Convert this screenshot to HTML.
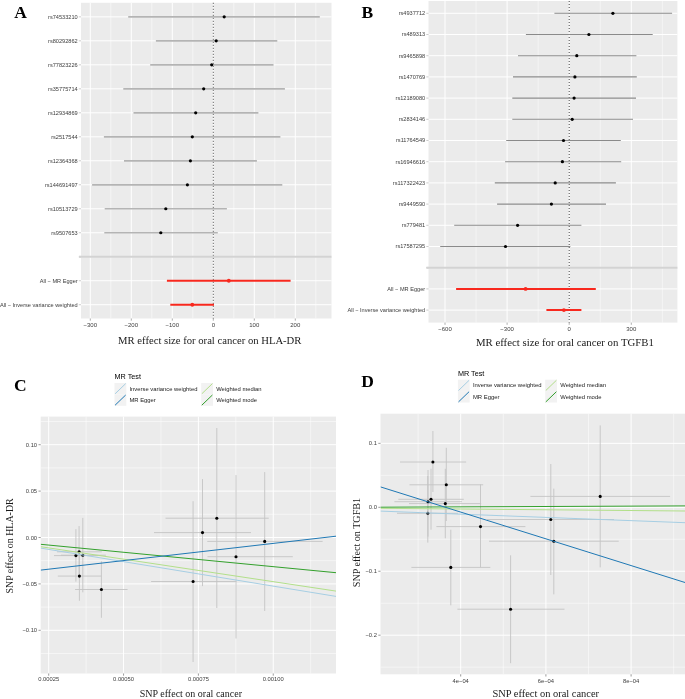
<!DOCTYPE html>
<html><head><meta charset="utf-8"><title>MR plots</title>
<style>
html,body{margin:0;padding:0;background:#fff;width:685px;height:699px;overflow:hidden;}
svg{display:block;will-change:transform;}
</style></head>
<body>
<svg width="685" height="699" viewBox="0 0 685 699">
<rect x="0" y="0" width="685" height="699" fill="#ffffff"/>
<text x="14.2" y="17.5" font-family="'Liberation Serif', serif" font-size="17.5" text-anchor="start" fill="#000" font-weight="bold" >A</text>
<text x="361.5" y="17.6" font-family="'Liberation Serif', serif" font-size="17.5" text-anchor="start" fill="#000" font-weight="bold" >B</text>
<text x="14.1" y="391" font-family="'Liberation Serif', serif" font-size="17.5" text-anchor="start" fill="#000" font-weight="bold" >C</text>
<text x="361.35" y="387.05" font-family="'Liberation Serif', serif" font-size="17.5" text-anchor="start" fill="#000" font-weight="bold" >D</text>
<rect x="81" y="2.8" width="250.5" height="315.7" fill="#ebebeb" />
<line x1="110.8" y1="2.8" x2="110.8" y2="318.5" stroke="#ffffff" stroke-width="0.5" />
<line x1="151.8" y1="2.8" x2="151.8" y2="318.5" stroke="#ffffff" stroke-width="0.5" />
<line x1="192.8" y1="2.8" x2="192.8" y2="318.5" stroke="#ffffff" stroke-width="0.5" />
<line x1="233.8" y1="2.8" x2="233.8" y2="318.5" stroke="#ffffff" stroke-width="0.5" />
<line x1="274.8" y1="2.8" x2="274.8" y2="318.5" stroke="#ffffff" stroke-width="0.5" />
<line x1="315.8" y1="2.8" x2="315.8" y2="318.5" stroke="#ffffff" stroke-width="0.5" />
<line x1="90.3" y1="2.8" x2="90.3" y2="318.5" stroke="#ffffff" stroke-width="1" />
<line x1="131.3" y1="2.8" x2="131.3" y2="318.5" stroke="#ffffff" stroke-width="1" />
<line x1="172.3" y1="2.8" x2="172.3" y2="318.5" stroke="#ffffff" stroke-width="1" />
<line x1="213.3" y1="2.8" x2="213.3" y2="318.5" stroke="#ffffff" stroke-width="1" />
<line x1="254.3" y1="2.8" x2="254.3" y2="318.5" stroke="#ffffff" stroke-width="1" />
<line x1="295.3" y1="2.8" x2="295.3" y2="318.5" stroke="#ffffff" stroke-width="1" />
<line x1="81" y1="16.85" x2="331.5" y2="16.85" stroke="#ffffff" stroke-width="1" />
<line x1="81" y1="40.84" x2="331.5" y2="40.84" stroke="#ffffff" stroke-width="1" />
<line x1="81" y1="64.83" x2="331.5" y2="64.83" stroke="#ffffff" stroke-width="1" />
<line x1="81" y1="88.82" x2="331.5" y2="88.82" stroke="#ffffff" stroke-width="1" />
<line x1="81" y1="112.81" x2="331.5" y2="112.81" stroke="#ffffff" stroke-width="1" />
<line x1="81" y1="136.8" x2="331.5" y2="136.8" stroke="#ffffff" stroke-width="1" />
<line x1="81" y1="160.79" x2="331.5" y2="160.79" stroke="#ffffff" stroke-width="1" />
<line x1="81" y1="184.78" x2="331.5" y2="184.78" stroke="#ffffff" stroke-width="1" />
<line x1="81" y1="208.77" x2="331.5" y2="208.77" stroke="#ffffff" stroke-width="1" />
<line x1="81" y1="232.76" x2="331.5" y2="232.76" stroke="#ffffff" stroke-width="1" />
<line x1="81" y1="256.75" x2="331.5" y2="256.75" stroke="#ffffff" stroke-width="1" />
<line x1="81" y1="280.74" x2="331.5" y2="280.74" stroke="#ffffff" stroke-width="1" />
<line x1="81" y1="304.73" x2="331.5" y2="304.73" stroke="#ffffff" stroke-width="1" />
<line x1="213.3" y1="2.8" x2="213.3" y2="318.5" stroke="#333" stroke-width="0.9" stroke-dasharray="1 2"/>
<line x1="128.2" y1="16.85" x2="319.8" y2="16.85" stroke="#b4b4b4" stroke-width="1.7" />
<circle cx="224.2" cy="16.85" r="1.6" fill="#000"/>
<line x1="155.9" y1="40.84" x2="277.3" y2="40.84" stroke="#b4b4b4" stroke-width="1.7" />
<circle cx="216.2" cy="40.84" r="1.6" fill="#000"/>
<line x1="150.2" y1="64.83" x2="273.5" y2="64.83" stroke="#b4b4b4" stroke-width="1.7" />
<circle cx="211.7" cy="64.83" r="1.6" fill="#000"/>
<line x1="123.3" y1="88.82" x2="284.9" y2="88.82" stroke="#b4b4b4" stroke-width="1.7" />
<circle cx="203.7" cy="88.82" r="1.6" fill="#000"/>
<line x1="133.5" y1="112.81" x2="258.4" y2="112.81" stroke="#b4b4b4" stroke-width="1.7" />
<circle cx="195.7" cy="112.81" r="1.6" fill="#000"/>
<line x1="103.9" y1="136.8" x2="280.4" y2="136.8" stroke="#b4b4b4" stroke-width="1.7" />
<circle cx="192.3" cy="136.8" r="1.6" fill="#000"/>
<line x1="124" y1="160.79" x2="256.9" y2="160.79" stroke="#b4b4b4" stroke-width="1.7" />
<circle cx="190.4" cy="160.79" r="1.6" fill="#000"/>
<line x1="92.1" y1="184.78" x2="282.3" y2="184.78" stroke="#b4b4b4" stroke-width="1.7" />
<circle cx="187.4" cy="184.78" r="1.6" fill="#000"/>
<line x1="104.7" y1="208.77" x2="226.9" y2="208.77" stroke="#b4b4b4" stroke-width="1.7" />
<circle cx="165.8" cy="208.77" r="1.6" fill="#000"/>
<line x1="104.3" y1="232.76" x2="217.8" y2="232.76" stroke="#b4b4b4" stroke-width="1.7" />
<circle cx="160.8" cy="232.76" r="1.6" fill="#000"/>
<line x1="79" y1="256.75" x2="331.5" y2="256.75" stroke="#d3d3d3" stroke-width="1.9" />
<line x1="166.9" y1="280.74" x2="290.6" y2="280.74" stroke="#f8281e" stroke-width="2" />
<circle cx="228.8" cy="280.74" r="1.9" fill="#f8281e"/>
<line x1="170.3" y1="304.73" x2="214" y2="304.73" stroke="#f8281e" stroke-width="2" />
<circle cx="192.3" cy="304.73" r="1.9" fill="#f8281e"/>
<line x1="78.8" y1="16.85" x2="81" y2="16.85" stroke="#aaa" stroke-width="0.6" />
<text x="77.7" y="18.8" font-family="'Liberation Sans', sans-serif" font-size="5.62" text-anchor="end" fill="#3c3c3c" font-weight="normal" >rs74533210</text>
<line x1="78.8" y1="40.84" x2="81" y2="40.84" stroke="#aaa" stroke-width="0.6" />
<text x="77.7" y="42.79" font-family="'Liberation Sans', sans-serif" font-size="5.62" text-anchor="end" fill="#3c3c3c" font-weight="normal" >rs80292862</text>
<line x1="78.8" y1="64.83" x2="81" y2="64.83" stroke="#aaa" stroke-width="0.6" />
<text x="77.7" y="66.78" font-family="'Liberation Sans', sans-serif" font-size="5.62" text-anchor="end" fill="#3c3c3c" font-weight="normal" >rs77823226</text>
<line x1="78.8" y1="88.82" x2="81" y2="88.82" stroke="#aaa" stroke-width="0.6" />
<text x="77.7" y="90.77" font-family="'Liberation Sans', sans-serif" font-size="5.62" text-anchor="end" fill="#3c3c3c" font-weight="normal" >rs35775714</text>
<line x1="78.8" y1="112.81" x2="81" y2="112.81" stroke="#aaa" stroke-width="0.6" />
<text x="77.7" y="114.76" font-family="'Liberation Sans', sans-serif" font-size="5.62" text-anchor="end" fill="#3c3c3c" font-weight="normal" >rs12934869</text>
<line x1="78.8" y1="136.8" x2="81" y2="136.8" stroke="#aaa" stroke-width="0.6" />
<text x="77.7" y="138.75" font-family="'Liberation Sans', sans-serif" font-size="5.62" text-anchor="end" fill="#3c3c3c" font-weight="normal" >rs2517544</text>
<line x1="78.8" y1="160.79" x2="81" y2="160.79" stroke="#aaa" stroke-width="0.6" />
<text x="77.7" y="162.74" font-family="'Liberation Sans', sans-serif" font-size="5.62" text-anchor="end" fill="#3c3c3c" font-weight="normal" >rs12364368</text>
<line x1="78.8" y1="184.78" x2="81" y2="184.78" stroke="#aaa" stroke-width="0.6" />
<text x="77.7" y="186.73" font-family="'Liberation Sans', sans-serif" font-size="5.62" text-anchor="end" fill="#3c3c3c" font-weight="normal" >rs144691497</text>
<line x1="78.8" y1="208.77" x2="81" y2="208.77" stroke="#aaa" stroke-width="0.6" />
<text x="77.7" y="210.72" font-family="'Liberation Sans', sans-serif" font-size="5.62" text-anchor="end" fill="#3c3c3c" font-weight="normal" >rs10513729</text>
<line x1="78.8" y1="232.76" x2="81" y2="232.76" stroke="#aaa" stroke-width="0.6" />
<text x="77.7" y="234.71" font-family="'Liberation Sans', sans-serif" font-size="5.62" text-anchor="end" fill="#3c3c3c" font-weight="normal" >rs9507653</text>
<line x1="78.8" y1="256.75" x2="81" y2="256.75" stroke="#d3d3d3" stroke-width="1.6" />
<line x1="78.8" y1="280.74" x2="81" y2="280.74" stroke="#aaa" stroke-width="0.6" />
<text x="77.7" y="282.69" font-family="'Liberation Sans', sans-serif" font-size="5.62" text-anchor="end" fill="#3c3c3c" font-weight="normal" >All − MR Egger</text>
<line x1="78.8" y1="304.73" x2="81" y2="304.73" stroke="#aaa" stroke-width="0.6" />
<text x="77.7" y="306.68" font-family="'Liberation Sans', sans-serif" font-size="5.62" text-anchor="end" fill="#3c3c3c" font-weight="normal" >All − Inverse variance weighted</text>
<line x1="90.3" y1="318.5" x2="90.3" y2="320.7" stroke="#777" stroke-width="0.6" />
<text x="90.3" y="327.1" font-family="'Liberation Sans', sans-serif" font-size="6" text-anchor="middle" fill="#3c3c3c" font-weight="normal" >−300</text>
<line x1="131.3" y1="318.5" x2="131.3" y2="320.7" stroke="#777" stroke-width="0.6" />
<text x="131.3" y="327.1" font-family="'Liberation Sans', sans-serif" font-size="6" text-anchor="middle" fill="#3c3c3c" font-weight="normal" >−200</text>
<line x1="172.3" y1="318.5" x2="172.3" y2="320.7" stroke="#777" stroke-width="0.6" />
<text x="172.3" y="327.1" font-family="'Liberation Sans', sans-serif" font-size="6" text-anchor="middle" fill="#3c3c3c" font-weight="normal" >−100</text>
<line x1="213.3" y1="318.5" x2="213.3" y2="320.7" stroke="#777" stroke-width="0.6" />
<text x="213.3" y="327.1" font-family="'Liberation Sans', sans-serif" font-size="6" text-anchor="middle" fill="#3c3c3c" font-weight="normal" >0</text>
<line x1="254.3" y1="318.5" x2="254.3" y2="320.7" stroke="#777" stroke-width="0.6" />
<text x="254.3" y="327.1" font-family="'Liberation Sans', sans-serif" font-size="6" text-anchor="middle" fill="#3c3c3c" font-weight="normal" >100</text>
<line x1="295.3" y1="318.5" x2="295.3" y2="320.7" stroke="#777" stroke-width="0.6" />
<text x="295.3" y="327.1" font-family="'Liberation Sans', sans-serif" font-size="6" text-anchor="middle" fill="#3c3c3c" font-weight="normal" >200</text>
<text x="209.75" y="344.4" font-family="'Liberation Serif', serif" font-size="10.65" text-anchor="middle" fill="#1a1a1a" font-weight="normal" >MR effect size for oral cancer on HLA-DR</text>
<rect x="428.5" y="1" width="248.9" height="321.6" fill="#ebebeb" />
<line x1="476.05" y1="1" x2="476.05" y2="322.6" stroke="#ffffff" stroke-width="0.5" />
<line x1="538.15" y1="1" x2="538.15" y2="322.6" stroke="#ffffff" stroke-width="0.5" />
<line x1="600.25" y1="1" x2="600.25" y2="322.6" stroke="#ffffff" stroke-width="0.5" />
<line x1="662.35" y1="1" x2="662.35" y2="322.6" stroke="#ffffff" stroke-width="0.5" />
<line x1="445" y1="1" x2="445" y2="322.6" stroke="#ffffff" stroke-width="1" />
<line x1="507.1" y1="1" x2="507.1" y2="322.6" stroke="#ffffff" stroke-width="1" />
<line x1="569.2" y1="1" x2="569.2" y2="322.6" stroke="#ffffff" stroke-width="1" />
<line x1="631.3" y1="1" x2="631.3" y2="322.6" stroke="#ffffff" stroke-width="1" />
<line x1="428.5" y1="13.3" x2="677.4" y2="13.3" stroke="#ffffff" stroke-width="1" />
<line x1="428.5" y1="34.5" x2="677.4" y2="34.5" stroke="#ffffff" stroke-width="1" />
<line x1="428.5" y1="55.7" x2="677.4" y2="55.7" stroke="#ffffff" stroke-width="1" />
<line x1="428.5" y1="76.9" x2="677.4" y2="76.9" stroke="#ffffff" stroke-width="1" />
<line x1="428.5" y1="98.1" x2="677.4" y2="98.1" stroke="#ffffff" stroke-width="1" />
<line x1="428.5" y1="119.3" x2="677.4" y2="119.3" stroke="#ffffff" stroke-width="1" />
<line x1="428.5" y1="140.5" x2="677.4" y2="140.5" stroke="#ffffff" stroke-width="1" />
<line x1="428.5" y1="161.7" x2="677.4" y2="161.7" stroke="#ffffff" stroke-width="1" />
<line x1="428.5" y1="182.9" x2="677.4" y2="182.9" stroke="#ffffff" stroke-width="1" />
<line x1="428.5" y1="204.1" x2="677.4" y2="204.1" stroke="#ffffff" stroke-width="1" />
<line x1="428.5" y1="225.3" x2="677.4" y2="225.3" stroke="#ffffff" stroke-width="1" />
<line x1="428.5" y1="246.5" x2="677.4" y2="246.5" stroke="#ffffff" stroke-width="1" />
<line x1="428.5" y1="267.7" x2="677.4" y2="267.7" stroke="#ffffff" stroke-width="1" />
<line x1="428.5" y1="288.9" x2="677.4" y2="288.9" stroke="#ffffff" stroke-width="1" />
<line x1="428.5" y1="310.1" x2="677.4" y2="310.1" stroke="#ffffff" stroke-width="1" />
<line x1="569.2" y1="1" x2="569.2" y2="322.6" stroke="#333" stroke-width="0.9" stroke-dasharray="1 2"/>
<line x1="554.4" y1="13.3" x2="672.1" y2="13.3" stroke="#8a8a8a" stroke-width="1.1" />
<circle cx="612.9" cy="13.3" r="1.6" fill="#000"/>
<line x1="525.9" y1="34.5" x2="652.7" y2="34.5" stroke="#8a8a8a" stroke-width="1.1" />
<circle cx="588.9" cy="34.5" r="1.6" fill="#000"/>
<line x1="518" y1="55.7" x2="636.4" y2="55.7" stroke="#8a8a8a" stroke-width="1.1" />
<circle cx="576.8" cy="55.7" r="1.6" fill="#000"/>
<line x1="513" y1="76.9" x2="636.8" y2="76.9" stroke="#8a8a8a" stroke-width="1.1" />
<circle cx="574.9" cy="76.9" r="1.6" fill="#000"/>
<line x1="512.3" y1="98.1" x2="636" y2="98.1" stroke="#8a8a8a" stroke-width="1.1" />
<circle cx="574.1" cy="98.1" r="1.6" fill="#000"/>
<line x1="512.3" y1="119.3" x2="633" y2="119.3" stroke="#8a8a8a" stroke-width="1.1" />
<circle cx="572.2" cy="119.3" r="1.6" fill="#000"/>
<line x1="506.2" y1="140.5" x2="620.8" y2="140.5" stroke="#8a8a8a" stroke-width="1.1" />
<circle cx="563.5" cy="140.5" r="1.6" fill="#000"/>
<line x1="505.1" y1="161.7" x2="621.2" y2="161.7" stroke="#8a8a8a" stroke-width="1.1" />
<circle cx="562.4" cy="161.7" r="1.6" fill="#000"/>
<line x1="494.8" y1="182.9" x2="615.9" y2="182.9" stroke="#8a8a8a" stroke-width="1.1" />
<circle cx="555.2" cy="182.9" r="1.6" fill="#000"/>
<line x1="497.1" y1="204.1" x2="606" y2="204.1" stroke="#8a8a8a" stroke-width="1.1" />
<circle cx="551.4" cy="204.1" r="1.6" fill="#000"/>
<line x1="454.2" y1="225.3" x2="581.4" y2="225.3" stroke="#8a8a8a" stroke-width="1.1" />
<circle cx="517.6" cy="225.3" r="1.6" fill="#000"/>
<line x1="440.2" y1="246.5" x2="570.4" y2="246.5" stroke="#8a8a8a" stroke-width="1.1" />
<circle cx="505.5" cy="246.5" r="1.6" fill="#000"/>
<line x1="426.5" y1="267.7" x2="677.4" y2="267.7" stroke="#d3d3d3" stroke-width="1.9" />
<line x1="456.1" y1="288.9" x2="595.8" y2="288.9" stroke="#f8281e" stroke-width="2" />
<circle cx="525.6" cy="288.9" r="1.9" fill="#f8281e"/>
<line x1="546.4" y1="310.1" x2="581.4" y2="310.1" stroke="#f8281e" stroke-width="2" />
<circle cx="563.9" cy="310.1" r="1.9" fill="#f8281e"/>
<line x1="426.3" y1="13.3" x2="428.5" y2="13.3" stroke="#aaa" stroke-width="0.6" />
<text x="425.2" y="15.25" font-family="'Liberation Sans', sans-serif" font-size="5.62" text-anchor="end" fill="#3c3c3c" font-weight="normal" >rs4937712</text>
<line x1="426.3" y1="34.5" x2="428.5" y2="34.5" stroke="#aaa" stroke-width="0.6" />
<text x="425.2" y="36.45" font-family="'Liberation Sans', sans-serif" font-size="5.62" text-anchor="end" fill="#3c3c3c" font-weight="normal" >rs489313</text>
<line x1="426.3" y1="55.7" x2="428.5" y2="55.7" stroke="#aaa" stroke-width="0.6" />
<text x="425.2" y="57.65" font-family="'Liberation Sans', sans-serif" font-size="5.62" text-anchor="end" fill="#3c3c3c" font-weight="normal" >rs9465898</text>
<line x1="426.3" y1="76.9" x2="428.5" y2="76.9" stroke="#aaa" stroke-width="0.6" />
<text x="425.2" y="78.85" font-family="'Liberation Sans', sans-serif" font-size="5.62" text-anchor="end" fill="#3c3c3c" font-weight="normal" >rs1470769</text>
<line x1="426.3" y1="98.1" x2="428.5" y2="98.1" stroke="#aaa" stroke-width="0.6" />
<text x="425.2" y="100.05" font-family="'Liberation Sans', sans-serif" font-size="5.62" text-anchor="end" fill="#3c3c3c" font-weight="normal" >rs12189080</text>
<line x1="426.3" y1="119.3" x2="428.5" y2="119.3" stroke="#aaa" stroke-width="0.6" />
<text x="425.2" y="121.25" font-family="'Liberation Sans', sans-serif" font-size="5.62" text-anchor="end" fill="#3c3c3c" font-weight="normal" >rs2834146</text>
<line x1="426.3" y1="140.5" x2="428.5" y2="140.5" stroke="#aaa" stroke-width="0.6" />
<text x="425.2" y="142.45" font-family="'Liberation Sans', sans-serif" font-size="5.62" text-anchor="end" fill="#3c3c3c" font-weight="normal" >rs11764549</text>
<line x1="426.3" y1="161.7" x2="428.5" y2="161.7" stroke="#aaa" stroke-width="0.6" />
<text x="425.2" y="163.65" font-family="'Liberation Sans', sans-serif" font-size="5.62" text-anchor="end" fill="#3c3c3c" font-weight="normal" >rs16946616</text>
<line x1="426.3" y1="182.9" x2="428.5" y2="182.9" stroke="#aaa" stroke-width="0.6" />
<text x="425.2" y="184.85" font-family="'Liberation Sans', sans-serif" font-size="5.62" text-anchor="end" fill="#3c3c3c" font-weight="normal" >rs117322423</text>
<line x1="426.3" y1="204.1" x2="428.5" y2="204.1" stroke="#aaa" stroke-width="0.6" />
<text x="425.2" y="206.05" font-family="'Liberation Sans', sans-serif" font-size="5.62" text-anchor="end" fill="#3c3c3c" font-weight="normal" >rs9449590</text>
<line x1="426.3" y1="225.3" x2="428.5" y2="225.3" stroke="#aaa" stroke-width="0.6" />
<text x="425.2" y="227.25" font-family="'Liberation Sans', sans-serif" font-size="5.62" text-anchor="end" fill="#3c3c3c" font-weight="normal" >rs779481</text>
<line x1="426.3" y1="246.5" x2="428.5" y2="246.5" stroke="#aaa" stroke-width="0.6" />
<text x="425.2" y="248.45" font-family="'Liberation Sans', sans-serif" font-size="5.62" text-anchor="end" fill="#3c3c3c" font-weight="normal" >rs17587295</text>
<line x1="426.3" y1="267.7" x2="428.5" y2="267.7" stroke="#d3d3d3" stroke-width="1.6" />
<line x1="426.3" y1="288.9" x2="428.5" y2="288.9" stroke="#aaa" stroke-width="0.6" />
<text x="425.2" y="290.85" font-family="'Liberation Sans', sans-serif" font-size="5.62" text-anchor="end" fill="#3c3c3c" font-weight="normal" >All − MR Egger</text>
<line x1="426.3" y1="310.1" x2="428.5" y2="310.1" stroke="#aaa" stroke-width="0.6" />
<text x="425.2" y="312.05" font-family="'Liberation Sans', sans-serif" font-size="5.62" text-anchor="end" fill="#3c3c3c" font-weight="normal" >All − Inverse variance weighted</text>
<line x1="445" y1="322.6" x2="445" y2="324.8" stroke="#777" stroke-width="0.6" />
<text x="445" y="330.9" font-family="'Liberation Sans', sans-serif" font-size="6" text-anchor="middle" fill="#3c3c3c" font-weight="normal" >−600</text>
<line x1="507.1" y1="322.6" x2="507.1" y2="324.8" stroke="#777" stroke-width="0.6" />
<text x="507.1" y="330.9" font-family="'Liberation Sans', sans-serif" font-size="6" text-anchor="middle" fill="#3c3c3c" font-weight="normal" >−300</text>
<line x1="569.2" y1="322.6" x2="569.2" y2="324.8" stroke="#777" stroke-width="0.6" />
<text x="569.2" y="330.9" font-family="'Liberation Sans', sans-serif" font-size="6" text-anchor="middle" fill="#3c3c3c" font-weight="normal" >0</text>
<line x1="631.3" y1="322.6" x2="631.3" y2="324.8" stroke="#777" stroke-width="0.6" />
<text x="631.3" y="330.9" font-family="'Liberation Sans', sans-serif" font-size="6" text-anchor="middle" fill="#3c3c3c" font-weight="normal" >300</text>
<text x="564.9" y="345.7" font-family="'Liberation Serif', serif" font-size="10.8" text-anchor="middle" fill="#1a1a1a" font-weight="normal" >MR effect size for oral cancer on TGFB1</text>
<rect x="40.7" y="416.6" width="295.3" height="256.9" fill="#ebebeb" />
<line x1="86.12" y1="416.6" x2="86.12" y2="673.5" stroke="#ffffff" stroke-width="0.5" />
<line x1="160.97" y1="416.6" x2="160.97" y2="673.5" stroke="#ffffff" stroke-width="0.5" />
<line x1="235.82" y1="416.6" x2="235.82" y2="673.5" stroke="#ffffff" stroke-width="0.5" />
<line x1="310.67" y1="416.6" x2="310.67" y2="673.5" stroke="#ffffff" stroke-width="0.5" />
<line x1="40.7" y1="421.5" x2="336" y2="421.5" stroke="#ffffff" stroke-width="0.5" />
<line x1="40.7" y1="467.9" x2="336" y2="467.9" stroke="#ffffff" stroke-width="0.5" />
<line x1="40.7" y1="514.3" x2="336" y2="514.3" stroke="#ffffff" stroke-width="0.5" />
<line x1="40.7" y1="560.7" x2="336" y2="560.7" stroke="#ffffff" stroke-width="0.5" />
<line x1="40.7" y1="607.1" x2="336" y2="607.1" stroke="#ffffff" stroke-width="0.5" />
<line x1="40.7" y1="653.5" x2="336" y2="653.5" stroke="#ffffff" stroke-width="0.5" />
<line x1="48.7" y1="416.6" x2="48.7" y2="673.5" stroke="#ffffff" stroke-width="1" />
<line x1="123.55" y1="416.6" x2="123.55" y2="673.5" stroke="#ffffff" stroke-width="1" />
<line x1="198.4" y1="416.6" x2="198.4" y2="673.5" stroke="#ffffff" stroke-width="1" />
<line x1="273.25" y1="416.6" x2="273.25" y2="673.5" stroke="#ffffff" stroke-width="1" />
<line x1="40.7" y1="444.7" x2="336" y2="444.7" stroke="#ffffff" stroke-width="1" />
<line x1="40.7" y1="491.1" x2="336" y2="491.1" stroke="#ffffff" stroke-width="1" />
<line x1="40.7" y1="537.5" x2="336" y2="537.5" stroke="#ffffff" stroke-width="1" />
<line x1="40.7" y1="583.9" x2="336" y2="583.9" stroke="#ffffff" stroke-width="1" />
<line x1="40.7" y1="630.3" x2="336" y2="630.3" stroke="#ffffff" stroke-width="1" />
<line x1="57" y1="551.8" x2="101.8" y2="551.8" stroke="#c4c4c4" stroke-width="0.9" />
<line x1="79.1" y1="526.1" x2="79.1" y2="577" stroke="#c4c4c4" stroke-width="0.9" />
<line x1="54" y1="555.6" x2="98" y2="555.6" stroke="#c4c4c4" stroke-width="0.9" />
<line x1="75.9" y1="529.2" x2="75.9" y2="581.6" stroke="#c4c4c4" stroke-width="0.9" />
<line x1="61" y1="555.2" x2="105.9" y2="555.2" stroke="#c4c4c4" stroke-width="0.9" />
<line x1="82.8" y1="517.9" x2="82.8" y2="592.3" stroke="#c4c4c4" stroke-width="0.9" />
<line x1="57.8" y1="576.1" x2="101.4" y2="576.1" stroke="#c4c4c4" stroke-width="0.9" />
<line x1="79.4" y1="551" x2="79.4" y2="600.8" stroke="#c4c4c4" stroke-width="0.9" />
<line x1="75.1" y1="589.5" x2="127.6" y2="589.5" stroke="#c4c4c4" stroke-width="0.9" />
<line x1="101.4" y1="561.3" x2="101.4" y2="617.8" stroke="#c4c4c4" stroke-width="0.9" />
<line x1="151.1" y1="581.5" x2="236.4" y2="581.5" stroke="#c4c4c4" stroke-width="0.9" />
<line x1="193.1" y1="501.2" x2="193.1" y2="662" stroke="#c4c4c4" stroke-width="0.9" />
<line x1="154" y1="532.6" x2="251" y2="532.6" stroke="#c4c4c4" stroke-width="0.9" />
<line x1="202.5" y1="479.1" x2="202.5" y2="586.1" stroke="#c4c4c4" stroke-width="0.9" />
<line x1="165.5" y1="518.2" x2="268.7" y2="518.2" stroke="#c4c4c4" stroke-width="0.9" />
<line x1="216.8" y1="428" x2="216.8" y2="608" stroke="#c4c4c4" stroke-width="0.9" />
<line x1="207.5" y1="556.7" x2="292.8" y2="556.7" stroke="#c4c4c4" stroke-width="0.9" />
<line x1="236" y1="475.1" x2="236" y2="638.5" stroke="#c4c4c4" stroke-width="0.9" />
<line x1="207.3" y1="541.4" x2="322.6" y2="541.4" stroke="#c4c4c4" stroke-width="0.9" />
<line x1="264.7" y1="472.1" x2="264.7" y2="611" stroke="#c4c4c4" stroke-width="0.9" />
<circle cx="79.1" cy="551.8" r="1.55" fill="#000"/>
<circle cx="75.9" cy="555.6" r="1.55" fill="#000"/>
<circle cx="82.8" cy="555.2" r="1.55" fill="#000"/>
<circle cx="79.4" cy="576.1" r="1.55" fill="#000"/>
<circle cx="101.4" cy="589.5" r="1.55" fill="#000"/>
<circle cx="193.1" cy="581.5" r="1.55" fill="#000"/>
<circle cx="202.5" cy="532.6" r="1.55" fill="#000"/>
<circle cx="216.8" cy="518.2" r="1.55" fill="#000"/>
<circle cx="236" cy="556.7" r="1.55" fill="#000"/>
<circle cx="264.7" cy="541.4" r="1.55" fill="#000"/>
<g clip-path="url(#clip40)">
<line x1="40.7" y1="548.1" x2="336" y2="596.4" stroke="#a6cee3" stroke-width="1" />
<line x1="40.7" y1="546.7" x2="336" y2="591.1" stroke="#b2df8a" stroke-width="1" />
<line x1="40.7" y1="544.3" x2="336" y2="572.7" stroke="#33a02c" stroke-width="1" />
<line x1="40.7" y1="570.1" x2="336" y2="536.2" stroke="#1f78b4" stroke-width="1" />
</g>
<clipPath id="clip40"><rect x="40.7" y="416.6" width="295.3" height="256.9"/></clipPath>
<line x1="48.7" y1="673.5" x2="48.7" y2="675.7" stroke="#555" stroke-width="0.6" />
<text x="48.7" y="681.3" font-family="'Liberation Sans', sans-serif" font-size="5.8" text-anchor="middle" fill="#3c3c3c" font-weight="normal" >0.00025</text>
<line x1="123.55" y1="673.5" x2="123.55" y2="675.7" stroke="#555" stroke-width="0.6" />
<text x="123.55" y="681.3" font-family="'Liberation Sans', sans-serif" font-size="5.8" text-anchor="middle" fill="#3c3c3c" font-weight="normal" >0.00050</text>
<line x1="198.4" y1="673.5" x2="198.4" y2="675.7" stroke="#555" stroke-width="0.6" />
<text x="198.4" y="681.3" font-family="'Liberation Sans', sans-serif" font-size="5.8" text-anchor="middle" fill="#3c3c3c" font-weight="normal" >0.00075</text>
<line x1="273.25" y1="673.5" x2="273.25" y2="675.7" stroke="#555" stroke-width="0.6" />
<text x="273.25" y="681.3" font-family="'Liberation Sans', sans-serif" font-size="5.8" text-anchor="middle" fill="#3c3c3c" font-weight="normal" >0.00100</text>
<line x1="38.5" y1="444.7" x2="40.7" y2="444.7" stroke="#555" stroke-width="0.6" />
<text x="37.1" y="446.7" font-family="'Liberation Sans', sans-serif" font-size="5.8" text-anchor="end" fill="#3c3c3c" font-weight="normal" >0.10</text>
<line x1="38.5" y1="491.1" x2="40.7" y2="491.1" stroke="#555" stroke-width="0.6" />
<text x="37.1" y="493.1" font-family="'Liberation Sans', sans-serif" font-size="5.8" text-anchor="end" fill="#3c3c3c" font-weight="normal" >0.05</text>
<line x1="38.5" y1="537.5" x2="40.7" y2="537.5" stroke="#555" stroke-width="0.6" />
<text x="37.1" y="539.5" font-family="'Liberation Sans', sans-serif" font-size="5.8" text-anchor="end" fill="#3c3c3c" font-weight="normal" >0.00</text>
<line x1="38.5" y1="583.9" x2="40.7" y2="583.9" stroke="#555" stroke-width="0.6" />
<text x="37.1" y="585.9" font-family="'Liberation Sans', sans-serif" font-size="5.8" text-anchor="end" fill="#3c3c3c" font-weight="normal" >−0.05</text>
<line x1="38.5" y1="630.3" x2="40.7" y2="630.3" stroke="#555" stroke-width="0.6" />
<text x="37.1" y="632.3" font-family="'Liberation Sans', sans-serif" font-size="5.8" text-anchor="end" fill="#3c3c3c" font-weight="normal" >−0.10</text>
<text x="190.9" y="697.3" font-family="'Liberation Serif', serif" font-size="10" text-anchor="middle" fill="#1a1a1a" font-weight="normal" >SNP effect on oral cancer</text>
<text x="0" y="0" transform="translate(13,545.9) rotate(-90)" font-family="'Liberation Serif', serif" font-size="9.95" text-anchor="middle" fill="#1a1a1a" font-weight="normal" >SNP effect on HLA-DR</text>
<text x="114.5" y="379.4" font-family="'Liberation Sans', sans-serif" font-size="7.25" text-anchor="start" fill="#000" font-weight="normal" >MR Test</text>
<rect x="114.5" y="383" width="11.8" height="11.4" fill="#f2f2f2" />
<line x1="115.1" y1="393.8" x2="125.7" y2="383.6" stroke="#a6cee3" stroke-width="1" />
<text x="129.5" y="390.75" font-family="'Liberation Sans', sans-serif" font-size="5.85" text-anchor="start" fill="#1a1a1a" font-weight="normal" >Inverse variance weighted</text>
<rect x="114.5" y="394.4" width="11.8" height="11.4" fill="#f2f2f2" />
<line x1="115.1" y1="405.2" x2="125.7" y2="395" stroke="#1f78b4" stroke-width="1" />
<text x="129.5" y="402.15" font-family="'Liberation Sans', sans-serif" font-size="5.85" text-anchor="start" fill="#1a1a1a" font-weight="normal" >MR Egger</text>
<rect x="201.2" y="383" width="11.8" height="11.4" fill="#f2f2f2" />
<line x1="201.8" y1="393.8" x2="212.4" y2="383.6" stroke="#b2df8a" stroke-width="1" />
<text x="216.2" y="390.75" font-family="'Liberation Sans', sans-serif" font-size="5.85" text-anchor="start" fill="#1a1a1a" font-weight="normal" >Weighted median</text>
<rect x="201.2" y="394.4" width="11.8" height="11.4" fill="#f2f2f2" />
<line x1="201.8" y1="405.2" x2="212.4" y2="395" stroke="#33a02c" stroke-width="1" />
<text x="216.2" y="402.15" font-family="'Liberation Sans', sans-serif" font-size="5.85" text-anchor="start" fill="#1a1a1a" font-weight="normal" >Weighted mode</text>
<rect x="380.5" y="413.7" width="304.5" height="260.6" fill="#ebebeb" />
<line x1="418.1" y1="413.7" x2="418.1" y2="674.3" stroke="#ffffff" stroke-width="0.5" />
<line x1="503.3" y1="413.7" x2="503.3" y2="674.3" stroke="#ffffff" stroke-width="0.5" />
<line x1="588.5" y1="413.7" x2="588.5" y2="674.3" stroke="#ffffff" stroke-width="0.5" />
<line x1="673.7" y1="413.7" x2="673.7" y2="674.3" stroke="#ffffff" stroke-width="0.5" />
<line x1="380.5" y1="475.32" x2="685" y2="475.32" stroke="#ffffff" stroke-width="0.5" />
<line x1="380.5" y1="539.27" x2="685" y2="539.27" stroke="#ffffff" stroke-width="0.5" />
<line x1="380.5" y1="603.23" x2="685" y2="603.23" stroke="#ffffff" stroke-width="0.5" />
<line x1="380.5" y1="667.17" x2="685" y2="667.17" stroke="#ffffff" stroke-width="0.5" />
<line x1="460.7" y1="413.7" x2="460.7" y2="674.3" stroke="#ffffff" stroke-width="1" />
<line x1="545.9" y1="413.7" x2="545.9" y2="674.3" stroke="#ffffff" stroke-width="1" />
<line x1="631.1" y1="413.7" x2="631.1" y2="674.3" stroke="#ffffff" stroke-width="1" />
<line x1="380.5" y1="443.35" x2="685" y2="443.35" stroke="#ffffff" stroke-width="1" />
<line x1="380.5" y1="507.3" x2="685" y2="507.3" stroke="#ffffff" stroke-width="1" />
<line x1="380.5" y1="571.25" x2="685" y2="571.25" stroke="#ffffff" stroke-width="1" />
<line x1="380.5" y1="635.2" x2="685" y2="635.2" stroke="#ffffff" stroke-width="1" />
<line x1="400" y1="462" x2="466.1" y2="462" stroke="#c4c4c4" stroke-width="0.9" />
<line x1="432.9" y1="431" x2="432.9" y2="492" stroke="#c4c4c4" stroke-width="0.9" />
<line x1="409.5" y1="484.8" x2="483.2" y2="484.8" stroke="#c4c4c4" stroke-width="0.9" />
<line x1="446.3" y1="447.8" x2="446.3" y2="521" stroke="#c4c4c4" stroke-width="0.9" />
<line x1="398.3" y1="499.3" x2="463.8" y2="499.3" stroke="#c4c4c4" stroke-width="0.9" />
<line x1="431" y1="468.8" x2="431" y2="529.7" stroke="#c4c4c4" stroke-width="0.9" />
<line x1="394.4" y1="501.7" x2="462" y2="501.7" stroke="#c4c4c4" stroke-width="0.9" />
<line x1="428" y1="470" x2="428" y2="536.6" stroke="#c4c4c4" stroke-width="0.9" />
<line x1="409" y1="503.6" x2="481.2" y2="503.6" stroke="#c4c4c4" stroke-width="0.9" />
<line x1="445.3" y1="468.8" x2="445.3" y2="538.3" stroke="#c4c4c4" stroke-width="0.9" />
<line x1="397" y1="513.3" x2="458" y2="513.3" stroke="#c4c4c4" stroke-width="0.9" />
<line x1="427.8" y1="476" x2="427.8" y2="542.6" stroke="#c4c4c4" stroke-width="0.9" />
<line x1="436.4" y1="526.6" x2="525.4" y2="526.6" stroke="#c4c4c4" stroke-width="0.9" />
<line x1="480.5" y1="484.4" x2="480.5" y2="567.3" stroke="#c4c4c4" stroke-width="0.9" />
<line x1="411.4" y1="567.4" x2="490.3" y2="567.4" stroke="#c4c4c4" stroke-width="0.9" />
<line x1="450.8" y1="529.7" x2="450.8" y2="605.3" stroke="#c4c4c4" stroke-width="0.9" />
<line x1="457.4" y1="609.2" x2="564.5" y2="609.2" stroke="#c4c4c4" stroke-width="0.9" />
<line x1="510.6" y1="555.3" x2="510.6" y2="663.2" stroke="#c4c4c4" stroke-width="0.9" />
<line x1="487" y1="519.5" x2="614" y2="519.5" stroke="#c4c4c4" stroke-width="0.9" />
<line x1="550.8" y1="464" x2="550.8" y2="575" stroke="#c4c4c4" stroke-width="0.9" />
<line x1="489" y1="541.2" x2="618.7" y2="541.2" stroke="#c4c4c4" stroke-width="0.9" />
<line x1="553.8" y1="488.6" x2="553.8" y2="594.4" stroke="#c4c4c4" stroke-width="0.9" />
<line x1="530.4" y1="496.4" x2="670.1" y2="496.4" stroke="#c4c4c4" stroke-width="0.9" />
<line x1="600.2" y1="425.4" x2="600.2" y2="567.4" stroke="#c4c4c4" stroke-width="0.9" />
<circle cx="432.9" cy="462" r="1.55" fill="#000"/>
<circle cx="446.3" cy="484.8" r="1.55" fill="#000"/>
<circle cx="431" cy="499.3" r="1.55" fill="#000"/>
<circle cx="428" cy="501.7" r="1.55" fill="#000"/>
<circle cx="445.3" cy="503.6" r="1.55" fill="#000"/>
<circle cx="427.8" cy="513.3" r="1.55" fill="#000"/>
<circle cx="480.5" cy="526.6" r="1.55" fill="#000"/>
<circle cx="450.8" cy="567.4" r="1.55" fill="#000"/>
<circle cx="510.6" cy="609.2" r="1.55" fill="#000"/>
<circle cx="550.8" cy="519.5" r="1.55" fill="#000"/>
<circle cx="553.8" cy="541.2" r="1.55" fill="#000"/>
<circle cx="600.2" cy="496.4" r="1.55" fill="#000"/>
<g clip-path="url(#clip380)">
<line x1="380.5" y1="511.1" x2="685" y2="522.7" stroke="#a6cee3" stroke-width="1" />
<line x1="380.5" y1="508.3" x2="685" y2="511" stroke="#b2df8a" stroke-width="1" />
<line x1="380.5" y1="507.2" x2="685" y2="505.9" stroke="#33a02c" stroke-width="1" />
<line x1="380.5" y1="486.9" x2="685" y2="582.5" stroke="#1f78b4" stroke-width="1" />
</g>
<clipPath id="clip380"><rect x="380.5" y="413.7" width="304.5" height="260.6"/></clipPath>
<line x1="460.7" y1="674.3" x2="460.7" y2="676.5" stroke="#555" stroke-width="0.6" />
<text x="460.7" y="682.7" font-family="'Liberation Sans', sans-serif" font-size="5.8" text-anchor="middle" fill="#3c3c3c" font-weight="normal" >4e−04</text>
<line x1="545.9" y1="674.3" x2="545.9" y2="676.5" stroke="#555" stroke-width="0.6" />
<text x="545.9" y="682.7" font-family="'Liberation Sans', sans-serif" font-size="5.8" text-anchor="middle" fill="#3c3c3c" font-weight="normal" >6e−04</text>
<line x1="631.1" y1="674.3" x2="631.1" y2="676.5" stroke="#555" stroke-width="0.6" />
<text x="631.1" y="682.7" font-family="'Liberation Sans', sans-serif" font-size="5.8" text-anchor="middle" fill="#3c3c3c" font-weight="normal" >8e−04</text>
<line x1="378.3" y1="443.35" x2="380.5" y2="443.35" stroke="#555" stroke-width="0.6" />
<text x="376.9" y="445.35" font-family="'Liberation Sans', sans-serif" font-size="5.8" text-anchor="end" fill="#3c3c3c" font-weight="normal" >0.1</text>
<line x1="378.3" y1="507.3" x2="380.5" y2="507.3" stroke="#555" stroke-width="0.6" />
<text x="376.9" y="509.3" font-family="'Liberation Sans', sans-serif" font-size="5.8" text-anchor="end" fill="#3c3c3c" font-weight="normal" >0.0</text>
<line x1="378.3" y1="571.25" x2="380.5" y2="571.25" stroke="#555" stroke-width="0.6" />
<text x="376.9" y="573.25" font-family="'Liberation Sans', sans-serif" font-size="5.8" text-anchor="end" fill="#3c3c3c" font-weight="normal" >−0.1</text>
<line x1="378.3" y1="635.2" x2="380.5" y2="635.2" stroke="#555" stroke-width="0.6" />
<text x="376.9" y="637.2" font-family="'Liberation Sans', sans-serif" font-size="5.8" text-anchor="end" fill="#3c3c3c" font-weight="normal" >−0.2</text>
<text x="545.75" y="696.5" font-family="'Liberation Serif', serif" font-size="10.45" text-anchor="middle" fill="#1a1a1a" font-weight="normal" >SNP effect on oral cancer</text>
<text x="0" y="0" transform="translate(360.2,542.6) rotate(-90)" font-family="'Liberation Serif', serif" font-size="10.1" text-anchor="middle" fill="#1a1a1a" font-weight="normal" >SNP effect on TGFB1</text>
<text x="457.9" y="375.8" font-family="'Liberation Sans', sans-serif" font-size="7.25" text-anchor="start" fill="#000" font-weight="normal" >MR Test</text>
<rect x="457.9" y="379.7" width="11.8" height="11.4" fill="#f2f2f2" />
<line x1="458.5" y1="390.5" x2="469.1" y2="380.3" stroke="#a6cee3" stroke-width="1" />
<text x="472.9" y="387.45" font-family="'Liberation Sans', sans-serif" font-size="5.92" text-anchor="start" fill="#1a1a1a" font-weight="normal" >Inverse variance weighted</text>
<rect x="457.9" y="391.1" width="11.8" height="11.4" fill="#f2f2f2" />
<line x1="458.5" y1="401.9" x2="469.1" y2="391.7" stroke="#1f78b4" stroke-width="1" />
<text x="472.9" y="398.85" font-family="'Liberation Sans', sans-serif" font-size="5.92" text-anchor="start" fill="#1a1a1a" font-weight="normal" >MR Egger</text>
<rect x="545.2" y="379.7" width="11.8" height="11.4" fill="#f2f2f2" />
<line x1="545.8" y1="390.5" x2="556.4" y2="380.3" stroke="#b2df8a" stroke-width="1" />
<text x="560.2" y="387.45" font-family="'Liberation Sans', sans-serif" font-size="5.92" text-anchor="start" fill="#1a1a1a" font-weight="normal" >Weighted median</text>
<rect x="545.2" y="391.1" width="11.8" height="11.4" fill="#f2f2f2" />
<line x1="545.8" y1="401.9" x2="556.4" y2="391.7" stroke="#33a02c" stroke-width="1" />
<text x="560.2" y="398.85" font-family="'Liberation Sans', sans-serif" font-size="5.92" text-anchor="start" fill="#1a1a1a" font-weight="normal" >Weighted mode</text>
</svg>
</body></html>
